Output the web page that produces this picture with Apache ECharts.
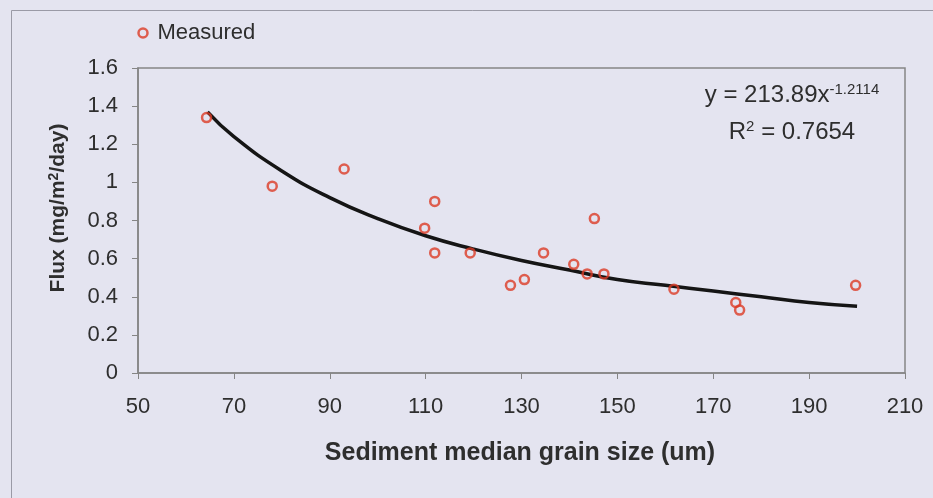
<!DOCTYPE html>
<html>
<head>
<meta charset="utf-8">
<script src="https://cdn.jsdelivr.net/npm/echarts@6/dist/echarts.min.js"></script>
<style>
html,body{margin:0;padding:0;background:#e4e4f0;}
#c{width:933px;height:498px;}
</style>
</head>
<body>
<div id="c"></div>
<script>
// Measured points (sediment median grain size um, flux mg/m2/day)
var grainSize = [64.3, 78, 93, 109.8, 111.9, 111.9, 119.3, 127.7, 130.6, 134.6, 140.9, 143.7, 145.2, 147.2, 161.8, 174.7, 175.5, 199.7];
var flux      = [1.34, 0.98, 1.07, 0.76, 0.90, 0.63, 0.63, 0.46, 0.49, 0.63, 0.57, 0.52, 0.81, 0.52, 0.44, 0.37, 0.33, 0.46];
// Trend line
var trendX = [64.5, 70, 80, 90, 100, 110, 120, 130, 140, 150, 160, 170, 180, 190, 200];
var trendY = [1.37, 1.24, 1.06, 0.92, 0.81, 0.72, 0.65, 0.59, 0.54, 0.49, 0.46, 0.43, 0.40, 0.37, 0.35];
var xTicks = [50, 70, 90, 110, 130, 150, 170, 190, 210];
var yTicks = [0, 0.2, 0.4, 0.6, 0.8, 1, 1.2, 1.4, 1.6];

var measured = grainSize.map(function (x, i) { return [x, flux[i]]; });
var trend = trendX.map(function (x, i) { return [x, trendY[i]]; });

var chart = echarts.init(document.getElementById('c'));
var txt = '#2e2e2e';
var axisCol = '#858585';
var red = '#dc3b26';
var ff = 'Liberation Sans, Arial, sans-serif';
chart.setOption({
  backgroundColor: '#e4e4f0',
  animation: false,
  textStyle: { fontFamily: ff },
  legend: {
    data: [{ name: 'Measured', icon: 'circle', itemStyle: { color: 'none', borderColor: red, borderWidth: 2.5 } }],
    left: 131, top: 17,
    itemWidth: 9, itemHeight: 9, itemGap: 7,
    textStyle: { fontSize: 22, color: txt, fontFamily: ff, padding: [0, 0, 0, 5] }
  },
  grid: { left: 138, right: 28, top: 68, bottom: 125, show: true, borderColor: axisCol, borderWidth: 1.5, backgroundColor: 'transparent' },
  xAxis: {
    type: 'value', min: xTicks[0], max: xTicks[xTicks.length - 1], interval: 20,
    axisLine: { show: true, lineStyle: { color: axisCol, width: 1.5 } },
    axisTick: { show: true, length: 6, lineStyle: { color: axisCol } },
    splitLine: { show: false },
    axisLabel: { fontSize: 22, color: txt, margin: 23, fontFamily: ff }
  },
  yAxis: {
    type: 'value', min: yTicks[0], max: yTicks[yTicks.length - 1], interval: 0.2,
    axisLine: { show: true, lineStyle: { color: axisCol, width: 1.5 } },
    axisTick: { show: true, length: 6, lineStyle: { color: axisCol } },
    splitLine: { show: false },
    axisLabel: { fontSize: 22, color: txt, margin: 20, fontFamily: ff }
  },
  series: [
    {
      name: 'Trend', type: 'line', data: trend, smooth: true, showSymbol: false, symbol: 'none',
      lineStyle: { color: '#151515', width: 3.5 }, z: 2
    },
    {
      name: 'Measured', type: 'scatter', data: measured, symbol: 'circle', symbolSize: 9,
      itemStyle: { color: 'transparent', borderColor: red, borderWidth: 2.5 }, z: 3
    }
  ],
  graphic: [
    { type: 'rect', left: 9, top: 8, shape: { width: 940, height: 520 }, style: { fill: 'none', stroke: '#9a9aa6', lineWidth: 1 }, silent: true },
    {
      type: 'text', x: 58, y: 208, rotation: Math.PI / 2,
      style: {
        text: 'Flux (mg/m{s|2}/day)', align: 'center', verticalAlign: 'middle',
        fill: txt, font: 'bold 21px ' + ff,
        rich: { s: { fontSize: 14, fontWeight: 'bold', verticalAlign: 'top', padding: [0, 0, 8, 0], fill: txt, fontFamily: ff } }
      }
    },
    {
      type: 'text', x: 520, y: 453,
      style: { text: 'Sediment median grain size (um)', align: 'center', verticalAlign: 'middle', fill: txt, font: 'bold 25px ' + ff }
    },
    {
      type: 'text', x: 792, y: 95,
      style: {
        text: 'y = 213.89x{s|-1.2114}', align: 'center', verticalAlign: 'middle',
        fill: txt, font: '24px ' + ff,
        rich: { s: { fontSize: 15, verticalAlign: 'top', padding: [0, 0, 11, 0], fill: txt, fontFamily: ff } }
      }
    },
    {
      type: 'text', x: 792, y: 132,
      style: {
        text: 'R{s|2} = 0.7654', align: 'center', verticalAlign: 'middle',
        fill: txt, font: '24px ' + ff,
        rich: { s: { fontSize: 15, verticalAlign: 'top', padding: [0, 0, 11, 0], fill: txt, fontFamily: ff } }
      }
    }
  ]
});
</script>
</body>
</html>
